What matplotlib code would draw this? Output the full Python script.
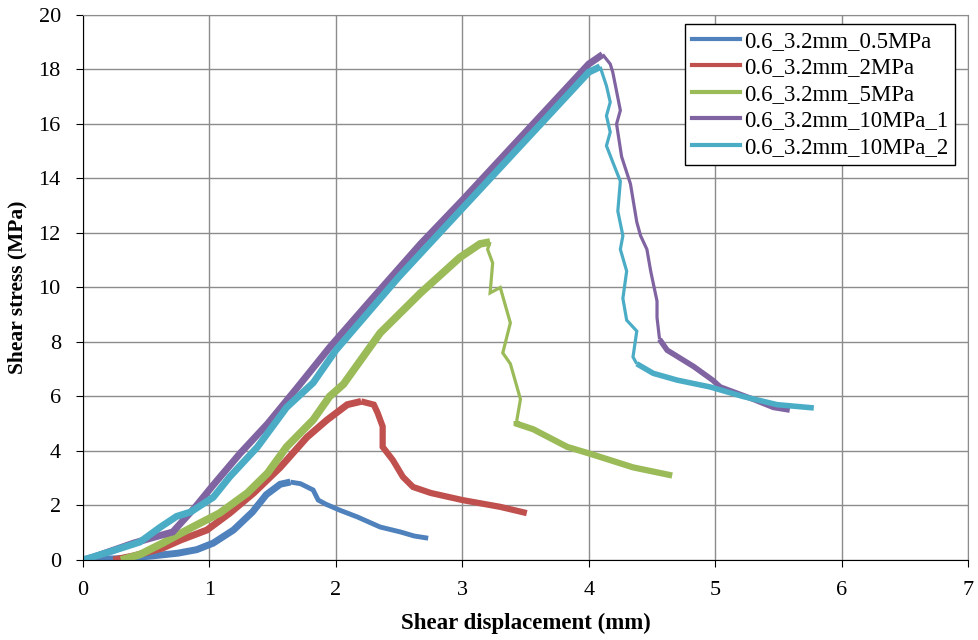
import matplotlib.pyplot as plt
from matplotlib.lines import Line2D

plt.rcParams['font.family'] = ['Liberation Serif', 'DejaVu Serif']

# Legendas
labels = ["0.6_3.2mm_0.5MPa", "0.6_3.2mm_2MPa", "0.6_3.2mm_5MPa",
          "0.6_3.2mm_10MPa_1", "0.6_3.2mm_10MPa_2"]
cores = ["#4F81BD", "#C0504D", "#9BBB59", "#8064A2", "#4BACC6"]

# 0.5 MPa
x05 = [0, 0.3, 0.55, 0.75, 0.9, 1.03, 1.19, 1.34, 1.45, 1.56, 1.64, 1.72, 1.82, 1.86,
       1.92, 2.03, 2.17, 2.35, 2.51, 2.62, 2.73]
y05 = [0, 0.05, 0.15, 0.25, 0.38, 0.62, 1.1, 1.76, 2.4, 2.78, 2.86, 2.8, 2.57, 2.2,
       2.05, 1.83, 1.58, 1.21, 1.03, 0.88, 0.8]

# 2 MPa
x2 = [0.24, 0.4, 0.63, 0.77, 0.98, 1.16, 1.35, 1.56, 1.77, 1.93, 2.09, 2.2, 2.3, 2.33,
      2.37, 2.37, 2.45, 2.53, 2.61, 2.75, 3.0, 3.3, 3.51]
y2 = [0, 0.15, 0.44, 0.73, 1.1, 1.72, 2.46, 3.4, 4.5, 5.14, 5.7, 5.82, 5.7, 5.4,
      4.9, 4.15, 3.67, 3.05, 2.68, 2.46, 2.2, 1.95, 1.72]

# 5 MPa
x5 = [0.3, 0.45, 0.63, 0.85, 1.08, 1.3, 1.46, 1.61, 1.82, 1.95, 2.06, 2.35, 2.67, 2.98,
      3.14, 3.22, 3.2, 3.24, 3.22, 3.3, 3.38, 3.32, 3.38, 3.46, 3.43, 3.43, 3.56, 3.83,
      4.01, 4.35, 4.66]
y5 = [0, 0.2, 0.62, 1.17, 1.72, 2.46, 3.19, 4.15, 5.14, 6.0, 6.45, 8.33, 9.8, 11.1,
      11.6, 11.67, 11.4, 10.9, 9.8, 10.0, 8.7, 7.6, 7.2, 5.9, 5.1, 5.0, 4.8, 4.15,
      3.9, 3.4, 3.1]

# 10 MPa_1
x10a = [0, 0.08, 0.4, 0.71, 0.88, 1.03, 1.24, 1.46, 1.69, 1.95, 2.27, 2.67, 3.0, 3.5,
        3.8, 4.0, 4.11, 4.17, 4.19, 4.25, 4.22, 4.26, 4.33, 4.38, 4.41, 4.46, 4.49,
        4.54, 4.54, 4.56, 4.62, 4.83, 4.98, 5.04, 5.3, 5.46, 5.59]
y10a = [0, 0.1, 0.62, 1.03, 1.9, 2.75, 3.9, 5.0, 6.3, 7.8, 9.5, 11.6, 13.2, 15.7,
        17.2, 18.2, 18.55, 18.2, 17.9, 16.5, 16.0, 14.8, 13.8, 12.4, 11.9, 11.4, 10.6,
        9.5, 8.9, 8.1, 7.7, 7.1, 6.6, 6.35, 5.9, 5.6, 5.5]

# 10 MPa_2
x10b = [0, 0.21, 0.45, 0.61, 0.74, 0.85, 1.03, 1.16, 1.38, 1.61, 1.82, 2.0, 2.5, 3.0,
        3.5, 3.8, 4.0, 4.09, 4.14, 4.17, 4.14, 4.17, 4.14, 4.19, 4.25, 4.23, 4.27,
        4.25, 4.3, 4.27, 4.3, 4.38, 4.35, 4.38, 4.51, 4.7, 4.96, 5.22, 5.49, 5.78]
y10b = [0, 0.3, 0.66, 1.2, 1.6, 1.76, 2.3, 3.05, 4.15, 5.6, 6.5, 7.7, 10.4, 12.9,
        15.4, 16.9, 17.9, 18.1, 17.4, 16.8, 16.3, 15.7, 15.2, 14.6, 13.9, 12.8, 11.9,
        11.4, 10.6, 9.6, 8.8, 8.4, 7.45, 7.2, 6.85, 6.6, 6.35, 6.0, 5.7, 5.58]

series = [(x05, y05), (x2, y2), (x5, y5), (x10a, y10a), (x10b, y10b)]
# trechos (inicio, fim, espessura)
trechos = [
    [(0, 10, 5.0), (10, 20, 3.5)],
    [(0, 11, 5.0), (11, 22, 4.5)],
    [(0, 15, 5.5), (15, 24, 2.3), (24, 30, 4.5)],
    [(0, 16, 5.0), (16, 29, 2.3), (29, 36, 4.0)],
    [(0, 17, 5.0), (17, 33, 2.3), (33, 39, 4.0)],
]

fig = plt.figure(figsize=(9.79, 6.4), dpi=100)
ax = fig.add_axes([0.0848, 0.125, 0.904, 0.8516])

for (x, y), tr, c in zip(series, trechos, cores):
    for a, b, lw in tr:
        ax.plot(x[a:b + 1], y[a:b + 1], color=c, linewidth=lw,
                solid_joinstyle="miter", solid_capstyle="butt")

ax.set_xlim(0, 7)
ax.set_ylim(0, 20)
ax.set_xticks(range(0, 8))
ax.set_yticks(range(0, 21, 2))
ax.grid(True, color="#8c8c8c", linewidth=1.0)
ax.set_axisbelow(True)
for s in ["top", "right"]:
    ax.spines[s].set_color("#8c8c8c")
for s in ["left", "bottom"]:
    ax.spines[s].set_color("black")
ax.tick_params(direction="out", length=5, labelsize=16)
ax.tick_params(axis="y", pad=11)
ax.tick_params(axis="x", pad=10)

ax.set_xlabel("Shear displacement (mm)", fontsize=16.5, fontweight="bold", labelpad=9)
ax.set_ylabel("Shear stress (MPa)", fontsize=15.5, fontweight="bold", labelpad=8)

handles = [Line2D([0], [0], color=c, linewidth=3) for c in cores]
leg = ax.legend(handles, labels, loc="upper right", fontsize=16.5, frameon=True,
                fancybox=False, edgecolor="black", framealpha=1, handlelength=2.1,
                handletextpad=0.15, borderpad=0.3, labelspacing=0.24,
                borderaxespad=0, bbox_to_anchor=(0.9853, 0.9835))
leg.get_frame().set_linewidth(1.0)

fig.savefig("out.png", dpi=100)
